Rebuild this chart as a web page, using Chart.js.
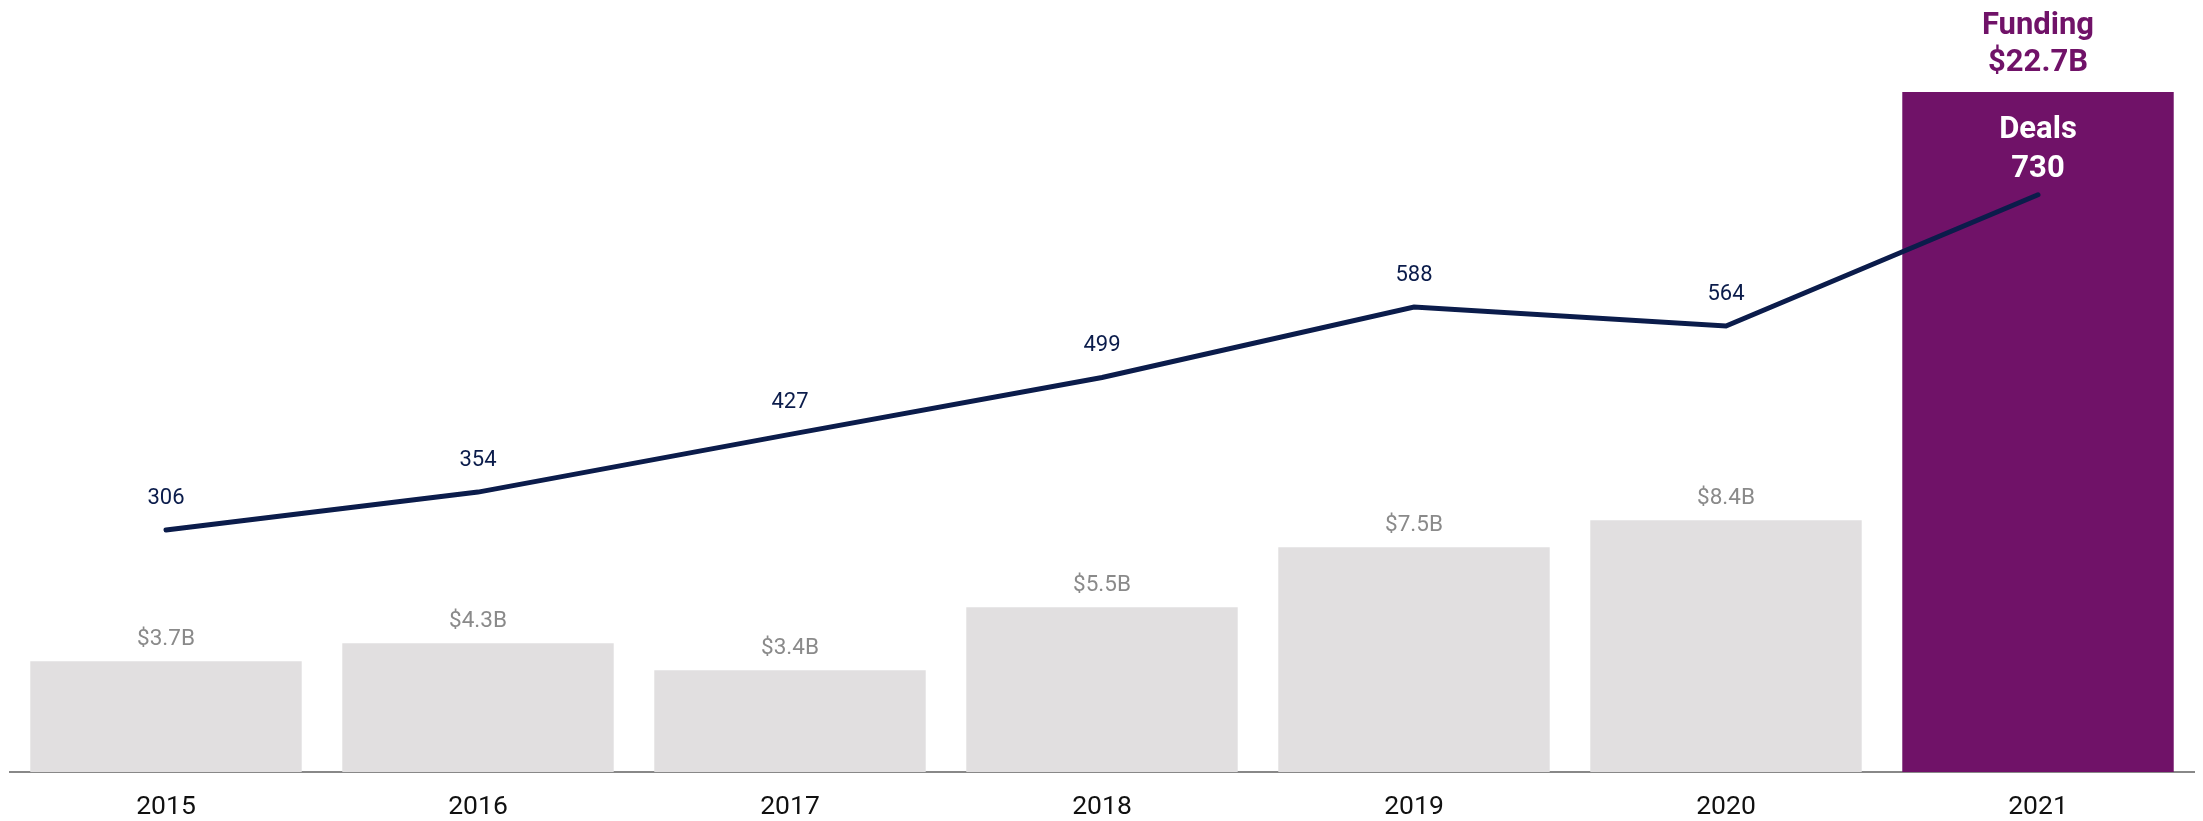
<!DOCTYPE html>
<html>
<head>
<meta charset="utf-8">
<script src="https://cdn.jsdelivr.net/npm/chart.js@4"></script>
<style>
  html, body { margin: 0; padding: 0; background: #ffffff; }
  #wrap { width: 2203px; height: 821px; }
</style>
</head>
<body>
<div id="wrap"><canvas id="funding-deals" width="2203" height="821"></canvas></div>
<script>
// Yearly funding ($B) and deal counts
const years = ['2015', '2016', '2017', '2018', '2019', '2020', '2021'];
const funding = [3.7, 4.3, 3.4, 5.5, 7.5, 8.4, 22.7];
const deals = [306, 354, 427, 499, 588, 564, 730];

const barGrey = '#e1dfe0';
const purple = '#701268';
const navy = '#0b1c4b';

// Last year is highlighted
const barColors = years.map((y, i) => i === years.length - 1 ? purple : barGrey);

// Draws the value labels above bars and line points
const valueLabels = {
    id: 'valueLabels',
    afterDatasetsDraw(chart) {
        const ctx = chart.ctx;
        const bars = chart.getDatasetMeta(0).data;
        const points = chart.getDatasetMeta(1).data;
        const last = years.length - 1;
        ctx.save();
        ctx.textAlign = 'center';
        ctx.textBaseline = 'alphabetic';

        bars.forEach((bar, i) => {
            if (i === last) {
                ctx.fillStyle = purple;
                ctx.font = 'bold 31px Roboto';
                ctx.fillText('Funding', bar.x, bar.y - 58);
                ctx.fillText('$' + funding[i] + 'B', bar.x, bar.y - 21);
                ctx.fillStyle = '#ffffff';
                ctx.font = 'bold 31px Roboto';
                ctx.fillText('Deals', bar.x, bar.y + 46);
                ctx.fillText(String(deals[i]), bar.x, bar.y + 85);
            } else {
                ctx.fillStyle = '#8a8a8a';
                ctx.font = '22.5px Roboto';
                ctx.fillText('$' + funding[i] + 'B', bar.x, bar.y - 16);
            }
        });

        points.forEach((pt, i) => {
            if (i === last) return;
            ctx.fillStyle = navy;
            ctx.font = '22px Roboto';
            ctx.fillText(String(deals[i]), pt.x, pt.y - 26);
        });
        ctx.restore();
    }
};

new Chart(document.getElementById('funding-deals'), {
    type: 'bar',
    data: {
        labels: years,
        datasets: [
            {
                label: 'Funding',
                data: funding,
                backgroundColor: barColors,
                borderWidth: 0,
                categoryPercentage: 1,
                barPercentage: 0.87,
                yAxisID: 'y',
                order: 1
            },
            {
                type: 'line',
                label: 'Deals',
                data: deals,
                borderColor: navy,
                borderWidth: 5,
                borderCapStyle: 'round',
                borderJoinStyle: 'miter',
                pointRadius: 0,
                tension: 0,
                yAxisID: 'y1',
                order: 0
            }
        ]
    },
    options: {
        responsive: false,
        animation: false,
        layout: {
            padding: { top: 92, left: 10, right: 9, bottom: 0 }
        },
        plugins: {
            legend: { display: false },
            tooltip: { enabled: false }
        },
        scales: {
            x: {
                grid: { display: false, drawTicks: false },
                border: { display: true, color: '#888888', width: 2 },
                ticks: {
                    color: '#111111',
                    padding: 19,
                    font: { family: 'Roboto', size: 26.5 }
                },
                afterFit(scale) {
                    scale.height = 49;
                }
            },
            y: {
                display: false,
                min: 0,
                max: 22.7
            },
            y1: {
                display: false,
                min: 0,
                max: 860
            }
        }
    },
    plugins: [valueLabels]
});
</script>
</body>
</html>
